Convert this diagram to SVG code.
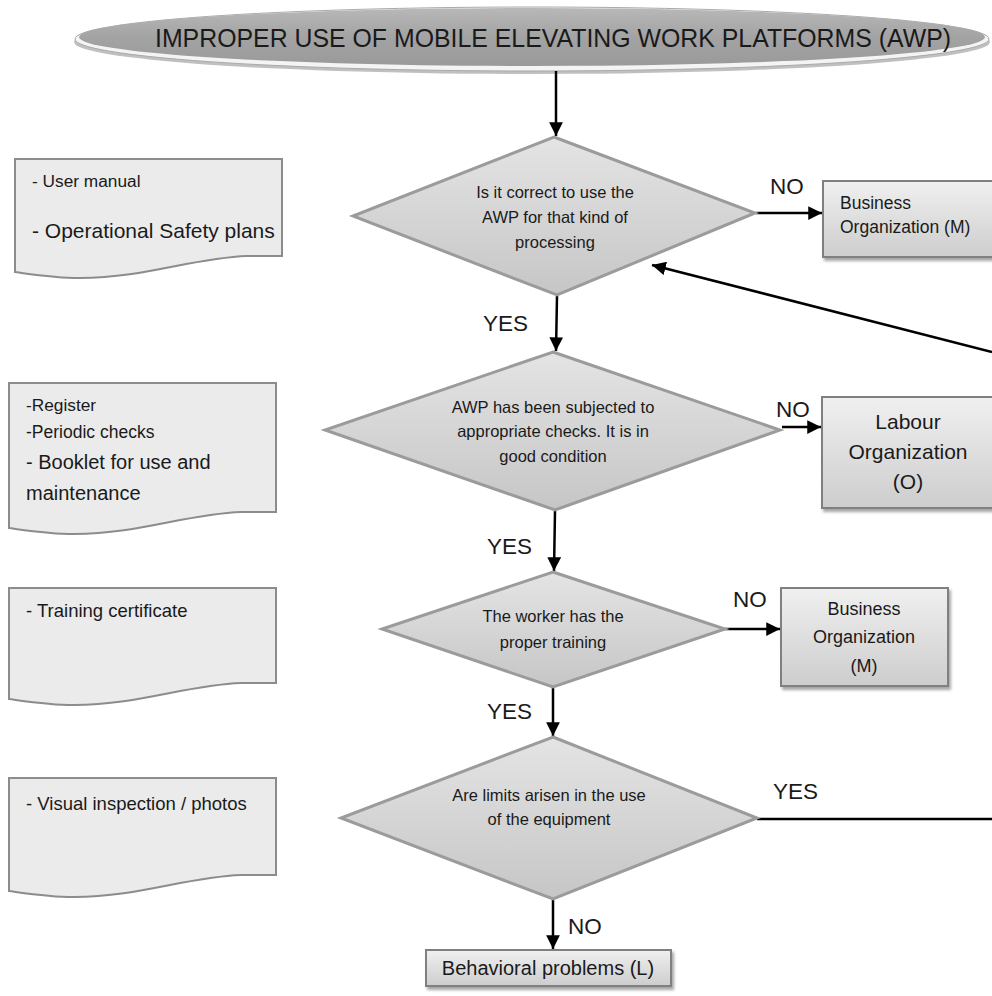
<svg xmlns="http://www.w3.org/2000/svg" width="992" height="996" viewBox="0 0 992 996">
<defs>
<linearGradient id="gDia" x1="0" y1="0" x2="0" y2="1"><stop offset="0" stop-color="#e4e4e4"/><stop offset="1" stop-color="#c6c6c6"/></linearGradient>
<linearGradient id="gBox" x1="0" y1="0" x2="0" y2="1"><stop offset="0" stop-color="#f0f0f0"/><stop offset="1" stop-color="#cdcdcd"/></linearGradient>
<linearGradient id="gTitle" x1="0" y1="0" x2="0" y2="1"><stop offset="0" stop-color="#b8b8b8"/><stop offset="0.5" stop-color="#a3a3a3"/><stop offset="1" stop-color="#9a9a9a"/></linearGradient>
<filter id="sh" x="-10%" y="-10%" width="130%" height="140%"><feDropShadow dx="2" dy="3" stdDeviation="1.5" flood-color="#000" flood-opacity="0.35"/></filter>
<marker id="ah" viewBox="0 0 10 10" refX="10" refY="5" markerWidth="5.5" markerHeight="5.5" orient="auto" markerUnits="strokeWidth"><path d="M0,0 L10,5 L0,10 Z" fill="#000"/></marker>
</defs>
<style>
text{font-family:"Liberation Sans",Arial,sans-serif;fill:#1a1a1a}
.dia{fill:url(#gDia);stroke:#9b9b9b;stroke-width:3}
.box{fill:url(#gBox);stroke:#808080;stroke-width:2;filter:url(#sh)}
.doc{fill:#ebebeb;stroke:#8c8c8c;stroke-width:2}
.c{fill:none;stroke:#000;stroke-width:2.5}
.lbl{font-size:22.5px}
.dt{font-size:16.5px;text-anchor:middle}
.mid{text-anchor:middle}
</style>
<rect width="992" height="996" fill="#fff"/>

<g id="title">
<ellipse cx="532" cy="42" rx="458" ry="32" fill="#8c8c8c" opacity="0.55"/>
<ellipse cx="532" cy="39" rx="457" ry="32" fill="#f4f4f4" stroke="#aaaaaa" stroke-width="1"/>
<ellipse cx="532" cy="37" rx="453" ry="29" fill="url(#gTitle)"/>
<text x="553" y="47" font-size="25" text-anchor="middle" textLength="796" lengthAdjust="spacingAndGlyphs">IMPROPER USE OF MOBILE ELEVATING WORK PLATFORMS (AWP)</text>
</g>

<g id="connectors">
<line class="c" x1="556" y1="71" x2="556" y2="136" marker-end="url(#ah)"/>
<line class="c" x1="557" y1="296" x2="556" y2="351" marker-end="url(#ah)"/>
<line class="c" x1="756" y1="213" x2="822" y2="213" marker-end="url(#ah)"/>
<line class="c" x1="992" y1="352" x2="652" y2="265" marker-end="url(#ah)"/>
<line class="c" x1="782" y1="427" x2="821" y2="427" marker-end="url(#ah)"/>
<line class="c" x1="555" y1="511" x2="554" y2="571" marker-end="url(#ah)"/>
<line class="c" x1="725" y1="629" x2="780" y2="629" marker-end="url(#ah)"/>
<line class="c" x1="553" y1="688" x2="553" y2="736" marker-end="url(#ah)"/>
<line class="c" x1="757" y1="819" x2="992" y2="819"/>
<line class="c" x1="553" y1="900" x2="553" y2="949" marker-end="url(#ah)"/>
<text class="lbl" x="770" y="194">NO</text>
<text class="lbl" x="483" y="331">YES</text>
<text class="lbl" x="776" y="417">NO</text>
<text class="lbl" x="487" y="554">YES</text>
<text class="lbl" x="733" y="607">NO</text>
<text class="lbl" x="487" y="719">YES</text>
<text class="lbl" x="773" y="799">YES</text>
<text class="lbl" x="568" y="934">NO</text>
</g>

<g id="doc1">
<path class="doc" d="M15,159 H282 V256 L247,256 C192,258 145,278 80,278 C55,278 30,274 15,272 Z"/>
<text x="32" y="187" font-size="17.3">- User manual</text>
<text x="32" y="238" font-size="21">- Operational Safety plans</text>
</g>

<g id="doc2">
<path class="doc" d="M9,383 H276 V512 L241,512 C186,514 139,534 74,534 C49,534 24,530 9,528 Z"/>
<text x="26" y="411" font-size="17.3">-Register</text>
<text x="26" y="438" font-size="17.5">-Periodic checks</text>
<text x="26" y="469" font-size="20">- Booklet for use and</text>
<text x="26" y="500" font-size="20">maintenance</text>
</g>

<g id="doc3">
<path class="doc" d="M9,588 H276 V683 L241,683 C186,685 139,705 74,705 C49,705 24,701 9,699 Z"/>
<text x="26" y="617" font-size="18.5">- Training certificate</text>
</g>

<g id="doc4">
<path class="doc" d="M9,778 H276 V875 L241,875 C186,877 139,897 74,897 C49,897 24,893 9,891 Z"/>
<text x="26" y="810" font-size="18.5">- Visual inspection / photos</text>
</g>

<g id="d1">
<polygon class="dia" points="554,137 755,213 557,295 353,216"/>
<text class="dt" x="555" y="198">Is it correct to use the</text>
<text class="dt" x="555" y="223">AWP for that kind of</text>
<text class="dt" x="555" y="248">processing</text>
</g>

<g id="d2">
<polygon class="dia" points="553,352 780,430 555,510 325,430"/>
<text class="dt" x="553" y="413">AWP has been subjected to</text>
<text class="dt" x="553" y="437">appropriate checks. It is in</text>
<text class="dt" x="553" y="462">good condition</text>
</g>

<g id="d3">
<polygon class="dia" points="553,572 725,629 553,687 382,629"/>
<text class="dt" x="553" y="622">The worker has the</text>
<text class="dt" x="553" y="648">proper training</text>
</g>

<g id="d4">
<polygon class="dia" points="553,737 757,818 553,899 341,818"/>
<text class="dt" x="549" y="801">Are limits arisen in the use</text>
<text class="dt" x="549" y="825">of the equipment</text>
</g>

<g id="b1">
<rect class="box" x="823" y="181" width="180" height="76"/>
<text x="840" y="209" font-size="17.5">Business</text>
<text x="840" y="233" font-size="17.5">Organization (M)</text>
</g>

<g id="b2">
<rect class="box" x="822" y="397" width="180" height="111"/>
<text class="mid" x="908" y="429" font-size="21">Labour</text>
<text class="mid" x="908" y="459" font-size="21">Organization</text>
<text class="mid" x="908" y="489" font-size="21">(O)</text>
</g>

<g id="b3">
<rect class="box" x="781" y="588" width="167" height="98"/>
<text class="mid" x="864" y="615" font-size="18">Business</text>
<text class="mid" x="864" y="643" font-size="18">Organization</text>
<text class="mid" x="864" y="672" font-size="18">(M)</text>
</g>

<g id="b4">
<rect class="box" x="426" y="950" width="245" height="36"/>
<text class="mid" x="548" y="975" font-size="20">Behavioral problems (L)</text>
</g>
</svg>
